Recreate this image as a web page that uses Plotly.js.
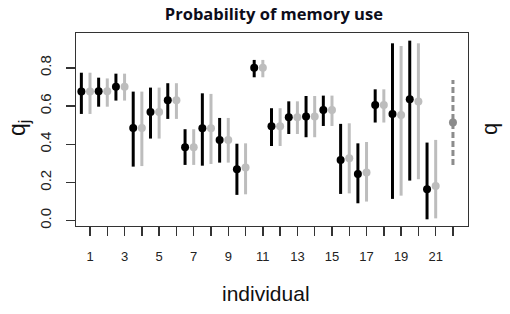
<!DOCTYPE html>
<html>
<head>
<meta charset="utf-8">
<script src="https://cdn.plot.ly/plotly-3.0.1.min.js"></script>
<style>html,body{margin:0;padding:0;background:#fff;}#chart{width:510px;height:314px;}</style>
</head>
<body>
<div id="chart"></div>
<script>
// individuals 1..21
const individuals = [1,2,3,4,5,6,7,8,9,10,11,12,13,14,15,16,17,18,19,20,21];
// black series (mean, lower, upper)
const blackMean = [0.676,0.678,0.702,0.486,0.569,0.631,0.384,0.484,0.423,0.269,0.801,0.494,0.542,0.545,0.580,0.318,0.245,0.606,0.559,0.636,0.164];
const blackLow  = [0.559,0.597,0.629,0.283,0.430,0.533,0.292,0.288,0.304,0.135,0.751,0.391,0.454,0.437,0.496,0.140,0.091,0.514,0.114,0.210,0.007];
const blackHigh = [0.775,0.749,0.770,0.676,0.697,0.720,0.479,0.667,0.538,0.403,0.842,0.589,0.625,0.653,0.655,0.507,0.405,0.688,0.929,0.943,0.409];
// gray series (mean, lower, upper)
const grayMean = [0.676,0.678,0.702,0.486,0.569,0.631,0.384,0.484,0.423,0.278,0.801,0.494,0.542,0.545,0.580,0.327,0.252,0.606,0.554,0.624,0.182];
const grayLow  = [0.559,0.597,0.629,0.286,0.430,0.533,0.292,0.297,0.304,0.138,0.751,0.391,0.454,0.437,0.496,0.143,0.100,0.514,0.131,0.217,0.012];
const grayHigh = [0.775,0.745,0.770,0.676,0.697,0.720,0.479,0.664,0.538,0.405,0.842,0.589,0.625,0.653,0.655,0.510,0.412,0.688,0.915,0.929,0.423];
// population q
const qPos = 22;
const qMean = 0.514, qLow = 0.292, qHigh = 0.737;
// ticks
const tickVals = [1,2,3,4,5,6,7,8,9,10,11,12,13,14,15,16,17,18,19,20,21,22];
const tickText = ['1',' ','3',' ','5',' ','7',' ','9',' ','11',' ','13',' ','15',' ','17',' ','19',' ','21',' '];
const yTicks = [0,0.2,0.4,0.6,0.8];
const yTickText = ['0.0','0.2','0.4','0.6','0.8'];

const blackX = individuals.map(i => i - 0.5);
const grayX = individuals.slice();

const traces = [
  {
    type:'scatter', mode:'markers', x: grayX, y: grayMean,
    marker:{color:'#bdbdbd', size:8},
    error_y:{type:'data', symmetric:false,
      array: grayHigh.map((h,k)=>h-grayMean[k]),
      arrayminus: grayMean.map((m,k)=>m-grayLow[k]),
      color:'#bdbdbd', thickness:3, width:0},
    hoverinfo:'skip', showlegend:false
  },
  {
    type:'scatter', mode:'markers', x: blackX, y: blackMean,
    marker:{color:'#000000', size:8},
    error_y:{type:'data', symmetric:false,
      array: blackHigh.map((h,k)=>h-blackMean[k]),
      arrayminus: blackMean.map((m,k)=>m-blackLow[k]),
      color:'#000000', thickness:3, width:0},
    hoverinfo:'skip', showlegend:false
  },
  {
    type:'scatter', mode:'lines', x:[qPos,qPos], y:[qLow,qHigh],
    line:{color:'#8c8c8c', width:3, dash:'6px,3px'},
    hoverinfo:'skip', showlegend:false
  },
  {
    type:'scatter', mode:'markers', x:[qPos], y:[qMean],
    marker:{color:'#8c8c8c', size:8},
    hoverinfo:'skip', showlegend:false
  }
];

const layout = {
  width:510, height:314,
  margin:{l:76, r:42, t:33, b:88, pad:0},
  paper_bgcolor:'#fff', plot_bgcolor:'#fff',
  showlegend:false,
  font:{family:'Liberation Sans, Arial, sans-serif', color:'#222'},
  title:{text:'<b>Probability of memory use</b>', x:0.537, xanchor:'center', y:0.955, yanchor:'middle',
         font:{family:'Open Sans, sans-serif', size:16.5, color:'#0d0d1a'}},
  xaxis:{
    range:[0.19,22.87], tickmode:'array', tickvals:tickVals, ticktext:tickText,
    ticks:'outside', ticklen:9, tickwidth:1.5, tickcolor:'#333',
    showline:true, linecolor:'#333', linewidth:1.2, mirror:true,
    showgrid:false, zeroline:false,
    tickfont:{size:13, color:'#222'}, ticklabelstandoff:9
  },
  yaxis:{
    range:[-0.028,0.983], tickmode:'array', tickvals:yTicks, ticktext:yTickText,
    ticks:'outside', ticklen:9, tickwidth:1.5, tickcolor:'#333',
    showline:true, linecolor:'#333', linewidth:1.2, mirror:true,
    showgrid:false, zeroline:false, tickangle:-90,
    tickfont:{size:15, color:'#222'}, ticklabelstandoff:9
  },
  annotations:[
    {text:'individual', xref:'paper', yref:'paper', x:(266-76)/392, y:(314-88-293)/193, xanchor:'center', yanchor:'middle',
     showarrow:false, font:{size:21, color:'#111'}},
    {text:'q<sub>j</sub>', xref:'paper', yref:'paper', x:(18-76)/392, y:(226-128)/193, xanchor:'center', yanchor:'middle',
     textangle:-90, showarrow:false, font:{size:23, color:'#111'}},
    {text:'q', xref:'paper', yref:'paper', x:(489-76)/392, y:(226-129)/193, xanchor:'center', yanchor:'middle',
     textangle:-90, showarrow:false, font:{size:22, color:'#111'}}
  ]
};

Plotly.newPlot('chart', traces, layout, {displayModeBar:false, staticPlot:true});
</script>
</body>
</html>
